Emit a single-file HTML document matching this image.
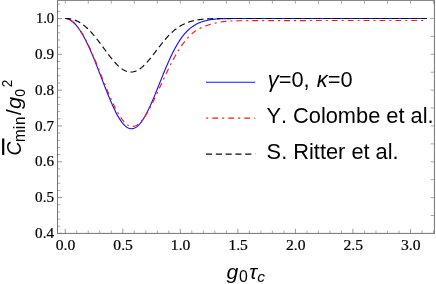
<!DOCTYPE html>
<html><head><meta charset="utf-8"><title>plot</title>
<style>html,body{margin:0;padding:0;background:#fff;}svg{display:block;will-change:transform;}</style></head>
<body>
<svg width="436" height="284" viewBox="0 0 436 284">
<rect width="436" height="284" fill="#fff"/>
<path d="M65.25 18.50 L65.77 18.52 L66.28 18.58 L66.80 18.67 L67.32 18.79 L67.84 18.94 L68.35 19.13 L68.87 19.34 L69.39 19.58 L69.90 19.85 L70.42 20.15 L70.94 20.48 L71.46 20.83 L71.97 21.21 L72.49 21.62 L73.01 22.05 L73.53 22.51 L74.04 23.00 L74.56 23.51 L75.08 24.05 L75.59 24.61 L76.11 25.20 L76.63 25.81 L77.15 26.45 L77.66 27.11 L78.18 27.80 L78.70 28.51 L79.21 29.24 L79.73 30.00 L80.25 30.78 L80.77 31.59 L81.28 32.41 L81.80 33.26 L82.32 34.13 L82.84 35.02 L83.35 35.94 L83.87 36.87 L84.39 37.83 L84.90 38.80 L85.42 39.80 L85.94 40.81 L86.46 41.85 L86.97 42.90 L87.49 43.97 L88.01 45.06 L88.52 46.16 L89.04 47.29 L89.56 48.43 L90.08 49.58 L90.59 50.75 L91.11 51.94 L91.63 53.14 L92.15 54.35 L92.66 55.58 L93.18 56.81 L93.70 58.07 L94.21 59.33 L94.73 60.60 L95.25 61.88 L95.77 63.18 L96.28 64.48 L96.80 65.79 L97.32 67.10 L97.83 68.42 L98.35 69.75 L98.87 71.09 L99.39 72.42 L99.90 73.76 L100.42 75.11 L100.94 76.45 L101.46 77.80 L101.97 79.15 L102.49 80.50 L103.01 81.84 L103.52 83.18 L104.04 84.52 L104.56 85.86 L105.08 87.19 L105.59 88.52 L106.11 89.83 L106.63 91.15 L107.14 92.45 L107.66 93.74 L108.18 95.02 L108.70 96.30 L109.21 97.56 L109.73 98.80 L110.25 100.04 L110.77 101.26 L111.28 102.46 L111.80 103.64 L112.32 104.81 L112.83 105.96 L113.35 107.09 L113.87 108.21 L114.39 109.30 L114.90 110.36 L115.42 111.41 L115.94 112.43 L116.45 113.43 L116.97 114.40 L117.49 115.35 L118.01 116.27 L118.52 117.16 L119.04 118.02 L119.56 118.86 L120.07 119.66 L120.59 120.44 L121.11 121.18 L121.63 121.90 L122.14 122.58 L122.66 123.22 L123.18 123.84 L123.70 124.41 L124.21 124.96 L124.73 125.47 L125.25 125.94 L125.76 126.38 L126.28 126.78 L126.80 127.15 L127.32 127.48 L127.83 127.77 L128.35 128.02 L128.87 128.24 L129.38 128.41 L129.90 128.55 L130.42 128.65 L130.94 128.72 L131.45 128.74 L131.97 128.72 L132.49 128.67 L133.01 128.58 L133.52 128.45 L134.04 128.28 L134.56 128.07 L135.07 127.83 L135.59 127.54 L136.11 127.22 L136.63 126.86 L137.14 126.47 L137.66 126.04 L138.18 125.57 L138.69 125.06 L139.21 124.53 L139.73 123.95 L140.25 123.34 L140.76 122.70 L141.28 122.03 L141.80 121.32 L142.32 120.58 L142.83 119.81 L143.35 119.01 L143.87 118.18 L144.38 117.32 L144.90 116.43 L145.42 115.51 L145.94 114.57 L146.45 113.60 L146.97 112.61 L147.49 111.60 L148.00 110.56 L148.52 109.49 L149.04 108.41 L149.56 107.31 L150.07 106.19 L150.59 105.05 L151.11 103.89 L151.63 102.72 L152.14 101.53 L152.66 100.33 L153.18 99.11 L153.69 97.88 L154.21 96.64 L154.73 95.39 L155.25 94.13 L155.76 92.87 L156.28 91.59 L156.80 90.31 L157.31 89.03 L157.83 87.74 L158.35 86.45 L158.87 85.15 L159.38 83.86 L159.90 82.56 L160.42 81.27 L160.94 79.98 L161.45 78.69 L161.97 77.40 L162.49 76.12 L163.00 74.84 L163.52 73.57 L164.04 72.30 L164.56 71.05 L165.07 69.80 L165.59 68.56 L166.11 67.33 L166.62 66.11 L167.14 64.91 L167.66 63.71 L168.18 62.53 L168.69 61.36 L169.21 60.21 L169.73 59.07 L170.24 57.94 L170.76 56.83 L171.28 55.73 L171.80 54.66 L172.31 53.59 L172.83 52.55 L173.35 51.52 L173.87 50.51 L174.38 49.52 L174.90 48.55 L175.42 47.60 L175.93 46.66 L176.45 45.75 L176.97 44.85 L177.49 43.97 L178.00 43.11 L178.52 42.27 L179.04 41.46 L179.55 40.66 L180.07 39.88 L180.59 39.12 L181.11 38.38 L181.62 37.66 L182.14 36.95 L182.66 36.27 L183.18 35.61 L183.69 34.96 L184.21 34.34 L184.73 33.73 L185.24 33.14 L185.76 32.57 L186.28 32.01 L186.80 31.48 L187.31 30.96 L187.83 30.45 L188.35 29.97 L188.86 29.50 L189.38 29.04 L189.90 28.60 L190.42 28.17 L190.93 27.76 L191.45 27.36 L191.97 26.98 L192.49 26.61 L193.00 26.25 L193.52 25.91 L194.04 25.58 L194.55 25.25 L195.07 24.94 L195.59 24.65 L196.11 24.36 L196.62 24.08 L197.14 23.81 L197.66 23.56 L198.17 23.31 L198.69 23.07 L199.21 22.84 L199.73 22.62 L200.24 22.41 L200.76 22.21 L201.28 22.01 L201.80 21.83 L202.31 21.65 L202.83 21.48 L203.35 21.31 L203.86 21.15 L204.38 21.00 L204.90 20.86 L205.42 20.72 L205.93 20.59 L206.45 20.47 L206.97 20.35 L207.48 20.23 L208.00 20.13 L208.52 20.03 L209.04 19.93 L209.55 19.84 L210.07 19.75 L210.59 19.67 L211.11 19.59 L211.62 19.52 L212.14 19.45 L212.66 19.38 L213.17 19.32 L213.69 19.26 L214.21 19.21 L214.73 19.16 L215.24 19.11 L215.76 19.07 L216.28 19.03 L216.79 18.99 L217.31 18.95 L217.83 18.92 L218.35 18.89 L218.86 18.86 L219.38 18.83 L219.90 18.80 L220.42 18.78 L220.93 18.76 L221.45 18.74 L221.97 18.72 L222.48 18.70 L223.00 18.69 L223.52 18.67 L224.04 18.66 L224.55 18.64 L225.07 18.63 L225.59 18.62 L226.10 18.61 L226.62 18.60 L227.14 18.59 L227.66 18.59 L228.17 18.58 L228.69 18.57 L229.21 18.57 L229.72 18.56 L230.24 18.56 L230.76 18.55 L231.28 18.55 L231.79 18.54 L232.31 18.54 L232.83 18.53 L233.35 18.53 L233.86 18.53 L234.38 18.53 L234.90 18.52 L235.41 18.52 L235.93 18.52 L236.45 18.52 L236.97 18.52 L237.48 18.51 L238.00 18.51 L238.52 18.51 L239.03 18.51 L239.55 18.51 L240.07 18.51 L240.59 18.51 L241.10 18.51 L241.62 18.51 L242.14 18.51 L242.66 18.51 L243.17 18.50 L243.69 18.50 L244.21 18.50 L244.72 18.50 L245.24 18.50 L245.76 18.50 L246.28 18.50 L246.79 18.50 L247.31 18.50 L247.83 18.50 L248.34 18.50 L248.86 18.50 L249.38 18.50 L249.90 18.50 L250.41 18.50 L250.93 18.50 L251.45 18.50 L251.97 18.50 L252.48 18.50 L253.00 18.50 L253.52 18.50 L254.03 18.50 L254.55 18.50 L255.07 18.50 L255.59 18.50 L256.10 18.50 L256.62 18.50 L257.14 18.50 L257.65 18.50 L258.17 18.50 L258.69 18.50 L259.21 18.50 L259.72 18.50 L260.24 18.50 L260.76 18.50 L261.28 18.50 L261.79 18.50 L262.31 18.50 L262.83 18.50 L263.34 18.50 L263.86 18.50 L264.38 18.50 L264.90 18.50 L265.41 18.50 L265.93 18.50 L266.45 18.50 L266.96 18.50 L267.48 18.50 L268.00 18.50 L268.52 18.50 L269.03 18.50 L269.55 18.50 L270.07 18.50 L270.59 18.50 L271.10 18.50 L271.62 18.50 L272.14 18.50 L272.65 18.50 L273.17 18.50 L273.69 18.50 L274.21 18.50 L274.72 18.50 L275.24 18.50 L275.76 18.50 L276.27 18.50 L276.79 18.50 L277.31 18.50 L277.83 18.50 L278.34 18.50 L278.86 18.50 L279.38 18.50 L279.89 18.50 L280.41 18.50 L280.93 18.50 L281.45 18.50 L281.96 18.50 L282.48 18.50 L283.00 18.50 L283.52 18.50 L284.03 18.50 L284.55 18.50 L285.07 18.50 L285.58 18.50 L286.10 18.50 L286.62 18.50 L287.14 18.50 L287.65 18.50 L288.17 18.50 L288.69 18.50 L289.20 18.50 L289.72 18.50 L290.24 18.50 L290.76 18.50 L291.27 18.50 L291.79 18.50 L292.31 18.50 L292.83 18.50 L293.34 18.50 L293.86 18.50 L294.38 18.50 L294.89 18.50 L295.41 18.50 L295.93 18.50 L296.45 18.50 L296.96 18.50 L297.48 18.50 L298.00 18.50 L298.51 18.50 L299.03 18.50 L299.55 18.50 L300.07 18.50 L300.58 18.50 L301.10 18.50 L301.62 18.50 L302.14 18.50 L302.65 18.50 L303.17 18.50 L303.69 18.50 L304.20 18.50 L304.72 18.50 L305.24 18.50 L305.76 18.50 L306.27 18.50 L306.79 18.50 L307.31 18.50 L307.82 18.50 L308.34 18.50 L308.86 18.50 L309.38 18.50 L309.89 18.50 L310.41 18.50 L310.93 18.50 L311.45 18.50 L311.96 18.50 L312.48 18.50 L313.00 18.50 L313.51 18.50 L314.03 18.50 L314.55 18.50 L315.07 18.50 L315.58 18.50 L316.10 18.50 L316.62 18.50 L317.13 18.50 L317.65 18.50 L318.17 18.50 L318.69 18.50 L319.20 18.50 L319.72 18.50 L320.24 18.50 L320.76 18.50 L321.27 18.50 L321.79 18.50 L322.31 18.50 L322.82 18.50 L323.34 18.50 L323.86 18.50 L324.38 18.50 L324.89 18.50 L325.41 18.50 L325.93 18.50 L326.44 18.50 L326.96 18.50 L327.48 18.50 L328.00 18.50 L328.51 18.50 L329.03 18.50 L329.55 18.50 L330.06 18.50 L330.58 18.50 L331.10 18.50 L331.62 18.50 L332.13 18.50 L332.65 18.50 L333.17 18.50 L333.69 18.50 L334.20 18.50 L334.72 18.50 L335.24 18.50 L335.75 18.50 L336.27 18.50 L336.79 18.50 L337.31 18.50 L337.82 18.50 L338.34 18.50 L338.86 18.50 L339.37 18.50 L339.89 18.50 L340.41 18.50 L340.93 18.50 L341.44 18.50 L341.96 18.50 L342.48 18.50 L343.00 18.50 L343.51 18.50 L344.03 18.50 L344.55 18.50 L345.06 18.50 L345.58 18.50 L346.10 18.50 L346.62 18.50 L347.13 18.50 L347.65 18.50 L348.17 18.50 L348.68 18.50 L349.20 18.50 L349.72 18.50 L350.24 18.50 L350.75 18.50 L351.27 18.50 L351.79 18.50 L352.31 18.50 L352.82 18.50 L353.34 18.50 L353.86 18.50 L354.37 18.50 L354.89 18.50 L355.41 18.50 L355.93 18.50 L356.44 18.50 L356.96 18.50 L357.48 18.50 L357.99 18.50 L358.51 18.50 L359.03 18.50 L359.55 18.50 L360.06 18.50 L360.58 18.50 L361.10 18.50 L361.62 18.50 L362.13 18.50 L362.65 18.50 L363.17 18.50 L363.68 18.50 L364.20 18.50 L364.72 18.50 L365.24 18.50 L365.75 18.50 L366.27 18.50 L366.79 18.50 L367.30 18.50 L367.82 18.50 L368.34 18.50 L368.86 18.50 L369.37 18.50 L369.89 18.50 L370.41 18.50 L370.93 18.50 L371.44 18.50 L371.96 18.50 L372.48 18.50 L372.99 18.50 L373.51 18.50 L374.03 18.50 L374.55 18.50 L375.06 18.50 L375.58 18.50 L376.10 18.50 L376.61 18.50 L377.13 18.50 L377.65 18.50 L378.17 18.50 L378.68 18.50 L379.20 18.50 L379.72 18.50 L380.23 18.50 L380.75 18.50 L381.27 18.50 L381.79 18.50 L382.30 18.50 L382.82 18.50 L383.34 18.50 L383.86 18.50 L384.37 18.50 L384.89 18.50 L385.41 18.50 L385.92 18.50 L386.44 18.50 L386.96 18.50 L387.48 18.50 L387.99 18.50 L388.51 18.50 L389.03 18.50 L389.54 18.50 L390.06 18.50 L390.58 18.50 L391.10 18.50 L391.61 18.50 L392.13 18.50 L392.65 18.50 L393.17 18.50 L393.68 18.50 L394.20 18.50 L394.72 18.50 L395.23 18.50 L395.75 18.50 L396.27 18.50 L396.79 18.50 L397.30 18.50 L397.82 18.50 L398.34 18.50 L398.85 18.50 L399.37 18.50 L399.89 18.50 L400.41 18.50 L400.92 18.50 L401.44 18.50 L401.96 18.50 L402.48 18.50 L402.99 18.50 L403.51 18.50 L404.03 18.50 L404.54 18.50 L405.06 18.50 L405.58 18.50 L406.10 18.50 L406.61 18.50 L407.13 18.50 L407.65 18.50 L408.16 18.50 L408.68 18.50 L409.20 18.50 L409.72 18.50 L410.23 18.50 L410.75 18.50 L411.27 18.50 L411.79 18.50 L412.30 18.50 L412.82 18.50 L413.34 18.50 L413.85 18.50 L414.37 18.50 L414.89 18.50 L415.41 18.50 L415.92 18.50 L416.44 18.50 L416.96 18.50 L417.47 18.50 L417.99 18.50 L418.51 18.50 L419.03 18.50 L419.54 18.50 L420.06 18.50 L420.58 18.50 L421.10 18.50 L421.61 18.50 L422.13 18.50 L422.65 18.50 L423.16 18.50 L423.68 18.50 L424.20 18.50 L424.72 18.50 L425.23 18.50 L425.75 18.50 L426.27 18.50 L426.78 18.50" fill="none" stroke="#1414ff" stroke-width="1.15"/>
<path d="M65.25 18.50 L65.77 18.52 L66.28 18.57 L66.80 18.66 L67.32 18.77 L67.84 18.91 L68.35 19.09 L68.87 19.29 L69.39 19.52 L69.90 19.78 L70.42 20.06 L70.94 20.37 L71.46 20.71 L71.97 21.08 L72.49 21.47 L73.01 21.89 L73.53 22.34 L74.04 22.81 L74.56 23.31 L75.08 23.83 L75.59 24.38 L76.11 24.95 L76.63 25.55 L77.15 26.17 L77.66 26.81 L78.18 27.48 L78.70 28.18 L79.21 28.89 L79.73 29.63 L80.25 30.39 L80.77 31.18 L81.28 31.98 L81.80 32.81 L82.32 33.66 L82.84 34.53 L83.35 35.42 L83.87 36.34 L84.39 37.27 L84.90 38.22 L85.42 39.19 L85.94 40.18 L86.46 41.18 L86.97 42.21 L87.49 43.25 L88.01 44.31 L88.52 45.38 L89.04 46.47 L89.56 47.57 L90.08 48.69 L90.59 49.83 L91.11 50.98 L91.63 52.14 L92.15 53.31 L92.66 54.50 L93.18 55.69 L93.70 56.90 L94.21 58.12 L94.73 59.34 L95.25 60.58 L95.77 61.82 L96.28 63.07 L96.80 64.33 L97.32 65.60 L97.83 66.87 L98.35 68.14 L98.87 69.42 L99.39 70.70 L99.90 71.99 L100.42 73.28 L100.94 74.57 L101.46 75.86 L101.97 77.15 L102.49 78.44 L103.01 79.72 L103.52 81.01 L104.04 82.29 L104.56 83.57 L105.08 84.84 L105.59 86.11 L106.11 87.38 L106.63 88.63 L107.14 89.88 L107.66 91.12 L108.18 92.35 L108.70 93.58 L109.21 94.79 L109.73 95.99 L110.25 97.18 L110.77 98.35 L111.28 99.51 L111.80 100.66 L112.32 101.79 L112.83 102.91 L113.35 104.01 L113.87 105.09 L114.39 106.15 L114.90 107.20 L115.42 108.22 L115.94 109.23 L116.45 110.21 L116.97 111.17 L117.49 112.10 L118.01 113.02 L118.52 113.91 L119.04 114.77 L119.56 115.61 L120.07 116.42 L120.59 117.21 L121.11 117.96 L121.63 118.69 L122.14 119.39 L122.66 120.06 L123.18 120.69 L123.70 121.30 L124.21 121.87 L124.73 122.42 L125.25 122.93 L125.76 123.40 L126.28 123.85 L126.80 124.26 L127.32 124.63 L127.83 124.97 L128.35 125.27 L128.87 125.54 L129.38 125.78 L129.90 125.97 L130.42 126.13 L130.94 126.26 L131.45 126.35 L131.97 126.40 L132.49 126.41 L133.01 126.39 L133.52 126.33 L134.04 126.24 L134.56 126.11 L135.07 125.94 L135.59 125.74 L136.11 125.51 L136.63 125.23 L137.14 124.93 L137.66 124.58 L138.18 124.21 L138.69 123.80 L139.21 123.36 L139.73 122.88 L140.25 122.38 L140.76 121.84 L141.28 121.27 L141.80 120.68 L142.32 120.05 L142.83 119.40 L143.35 118.71 L143.87 118.00 L144.38 117.27 L144.90 116.51 L145.42 115.72 L145.94 114.91 L146.45 114.08 L146.97 113.23 L147.49 112.35 L148.00 111.45 L148.52 110.54 L149.04 109.61 L149.56 108.65 L150.07 107.69 L150.59 106.70 L151.11 105.70 L151.63 104.69 L152.14 103.66 L152.66 102.62 L153.18 101.57 L153.69 100.51 L154.21 99.44 L154.73 98.36 L155.25 97.27 L155.76 96.18 L156.28 95.07 L156.80 93.97 L157.31 92.85 L157.83 91.73 L158.35 90.61 L158.87 89.49 L159.38 88.36 L159.90 87.23 L160.42 86.11 L160.94 84.98 L161.45 83.85 L161.97 82.72 L162.49 81.60 L163.00 80.48 L163.52 79.36 L164.04 78.24 L164.56 77.13 L165.07 76.02 L165.59 74.92 L166.11 73.83 L166.62 72.74 L167.14 71.66 L167.66 70.58 L168.18 69.52 L168.69 68.46 L169.21 67.41 L169.73 66.37 L170.24 65.34 L170.76 64.32 L171.28 63.30 L171.80 62.30 L172.31 61.31 L172.83 60.34 L173.35 59.37 L173.87 58.41 L174.38 57.47 L174.90 56.54 L175.42 55.62 L175.93 54.72 L176.45 53.83 L176.97 52.95 L177.49 52.08 L178.00 51.23 L178.52 50.39 L179.04 49.57 L179.55 48.76 L180.07 47.96 L180.59 47.18 L181.11 46.41 L181.62 45.66 L182.14 44.92 L182.66 44.20 L183.18 43.49 L183.69 42.79 L184.21 42.11 L184.73 41.45 L185.24 40.80 L185.76 40.16 L186.28 39.54 L186.80 38.94 L187.31 38.34 L187.83 37.77 L188.35 37.21 L188.86 36.66 L189.38 36.13 L189.90 35.61 L190.42 35.11 L190.93 34.62 L191.45 34.15 L191.97 33.69 L192.49 33.25 L193.00 32.81 L193.52 32.40 L194.04 32.00 L194.55 31.61 L195.07 31.23 L195.59 30.87 L196.11 30.52 L196.62 30.18 L197.14 29.86 L197.66 29.54 L198.17 29.24 L198.69 28.95 L199.21 28.67 L199.73 28.40 L200.24 28.14 L200.76 27.89 L201.28 27.65 L201.80 27.42 L202.31 27.20 L202.83 26.98 L203.35 26.77 L203.86 26.56 L204.38 26.37 L204.90 26.17 L205.42 25.99 L205.93 25.80 L206.45 25.62 L206.97 25.45 L207.48 25.28 L208.00 25.11 L208.52 24.95 L209.04 24.79 L209.55 24.63 L210.07 24.47 L210.59 24.32 L211.11 24.17 L211.62 24.02 L212.14 23.88 L212.66 23.74 L213.17 23.60 L213.69 23.47 L214.21 23.33 L214.73 23.20 L215.24 23.08 L215.76 22.96 L216.28 22.84 L216.79 22.72 L217.31 22.61 L217.83 22.50 L218.35 22.40 L218.86 22.30 L219.38 22.21 L219.90 22.12 L220.42 22.03 L220.93 21.95 L221.45 21.87 L221.97 21.79 L222.48 21.72 L223.00 21.66 L223.52 21.59 L224.04 21.53 L224.55 21.48 L225.07 21.42 L225.59 21.38 L226.10 21.33 L226.62 21.29 L227.14 21.24 L227.66 21.21 L228.17 21.17 L228.69 21.14 L229.21 21.11 L229.72 21.08 L230.24 21.05 L230.76 21.03 L231.28 21.00 L231.79 20.98 L232.31 20.96 L232.83 20.94 L233.35 20.92 L233.86 20.90 L234.38 20.89 L234.90 20.87 L235.41 20.86 L235.93 20.85 L236.45 20.83 L236.97 20.82 L237.48 20.81 L238.00 20.80 L238.52 20.79 L239.03 20.78 L239.55 20.77 L240.07 20.77 L240.59 20.76 L241.10 20.75 L241.62 20.74 L242.14 20.74 L242.66 20.73 L243.17 20.73 L243.69 20.72 L244.21 20.72 L244.72 20.71 L245.24 20.71 L245.76 20.70 L246.28 20.70 L246.79 20.69 L247.31 20.69 L247.83 20.68 L248.34 20.68 L248.86 20.68 L249.38 20.67 L249.90 20.67 L250.41 20.67 L250.93 20.66 L251.45 20.66 L251.97 20.66 L252.48 20.66 L253.00 20.65 L253.52 20.65 L254.03 20.65 L254.55 20.65 L255.07 20.64 L255.59 20.64 L256.10 20.64 L256.62 20.64 L257.14 20.63 L257.65 20.63 L258.17 20.63 L258.69 20.63 L259.21 20.63 L259.72 20.63 L260.24 20.62 L260.76 20.62 L261.28 20.62 L261.79 20.62 L262.31 20.62 L262.83 20.61 L263.34 20.61 L263.86 20.61 L264.38 20.61 L264.90 20.61 L265.41 20.61 L265.93 20.61 L266.45 20.60 L266.96 20.60 L267.48 20.60 L268.00 20.60 L268.52 20.60 L269.03 20.60 L269.55 20.60 L270.07 20.59 L270.59 20.59 L271.10 20.59 L271.62 20.59 L272.14 20.59 L272.65 20.59 L273.17 20.59 L273.69 20.59 L274.21 20.58 L274.72 20.58 L275.24 20.58 L275.76 20.58 L276.27 20.58 L276.79 20.58 L277.31 20.58 L277.83 20.58 L278.34 20.58 L278.86 20.58 L279.38 20.57 L279.89 20.57 L280.41 20.57 L280.93 20.57 L281.45 20.57 L281.96 20.57 L282.48 20.57 L283.00 20.57 L283.52 20.57 L284.03 20.57 L284.55 20.57 L285.07 20.56 L285.58 20.56 L286.10 20.56 L286.62 20.56 L287.14 20.56 L287.65 20.56 L288.17 20.56 L288.69 20.56 L289.20 20.56 L289.72 20.56 L290.24 20.56 L290.76 20.56 L291.27 20.56 L291.79 20.56 L292.31 20.56 L292.83 20.55 L293.34 20.55 L293.86 20.55 L294.38 20.55 L294.89 20.55 L295.41 20.55 L295.93 20.55 L296.45 20.55 L296.96 20.55 L297.48 20.55 L298.00 20.55 L298.51 20.55 L299.03 20.55 L299.55 20.55 L300.07 20.55 L300.58 20.55 L301.10 20.55 L301.62 20.55 L302.14 20.55 L302.65 20.55 L303.17 20.55 L303.69 20.55 L304.20 20.55 L304.72 20.55 L305.24 20.55 L305.76 20.55 L306.27 20.55 L306.79 20.55 L307.31 20.55 L307.82 20.55 L308.34 20.54 L308.86 20.54 L309.38 20.54 L309.89 20.54 L310.41 20.54 L310.93 20.54 L311.45 20.54 L311.96 20.54 L312.48 20.54 L313.00 20.54 L313.51 20.54 L314.03 20.54 L314.55 20.54 L315.07 20.54 L315.58 20.54 L316.10 20.54 L316.62 20.54 L317.13 20.54 L317.65 20.54 L318.17 20.54 L318.69 20.54 L319.20 20.54 L319.72 20.54 L320.24 20.54 L320.76 20.54 L321.27 20.54 L321.79 20.54 L322.31 20.54 L322.82 20.54 L323.34 20.54 L323.86 20.54 L324.38 20.54 L324.89 20.54 L325.41 20.54 L325.93 20.54 L326.44 20.54 L326.96 20.54 L327.48 20.54 L328.00 20.54 L328.51 20.54 L329.03 20.54 L329.55 20.54 L330.06 20.54 L330.58 20.54 L331.10 20.54 L331.62 20.54 L332.13 20.54 L332.65 20.54 L333.17 20.54 L333.69 20.54 L334.20 20.54 L334.72 20.54 L335.24 20.54 L335.75 20.54 L336.27 20.54 L336.79 20.54 L337.31 20.54 L337.82 20.54 L338.34 20.54 L338.86 20.54 L339.37 20.54 L339.89 20.54 L340.41 20.54 L340.93 20.54 L341.44 20.54 L341.96 20.54 L342.48 20.54 L343.00 20.54 L343.51 20.54 L344.03 20.54 L344.55 20.54 L345.06 20.54 L345.58 20.54 L346.10 20.54 L346.62 20.54 L347.13 20.54 L347.65 20.54 L348.17 20.54 L348.68 20.54 L349.20 20.54 L349.72 20.54 L350.24 20.54 L350.75 20.54 L351.27 20.54 L351.79 20.54 L352.31 20.54 L352.82 20.54 L353.34 20.54 L353.86 20.54 L354.37 20.54 L354.89 20.54 L355.41 20.54 L355.93 20.54 L356.44 20.54 L356.96 20.54 L357.48 20.54 L357.99 20.54 L358.51 20.54 L359.03 20.54 L359.55 20.54 L360.06 20.54 L360.58 20.54 L361.10 20.54 L361.62 20.54 L362.13 20.54 L362.65 20.54 L363.17 20.54 L363.68 20.54 L364.20 20.54 L364.72 20.54 L365.24 20.54 L365.75 20.54 L366.27 20.54 L366.79 20.54 L367.30 20.54 L367.82 20.54 L368.34 20.54 L368.86 20.54 L369.37 20.54 L369.89 20.54 L370.41 20.54 L370.93 20.54 L371.44 20.54 L371.96 20.54 L372.48 20.54 L372.99 20.54 L373.51 20.54 L374.03 20.54 L374.55 20.54 L375.06 20.54 L375.58 20.54 L376.10 20.54 L376.61 20.54 L377.13 20.54 L377.65 20.54 L378.17 20.54 L378.68 20.54 L379.20 20.54 L379.72 20.54 L380.23 20.54 L380.75 20.54 L381.27 20.54 L381.79 20.54 L382.30 20.54 L382.82 20.54 L383.34 20.54 L383.86 20.54 L384.37 20.54 L384.89 20.54 L385.41 20.54 L385.92 20.54 L386.44 20.54 L386.96 20.54 L387.48 20.54 L387.99 20.54 L388.51 20.54 L389.03 20.54 L389.54 20.54 L390.06 20.54 L390.58 20.54 L391.10 20.54 L391.61 20.54 L392.13 20.54 L392.65 20.54 L393.17 20.54 L393.68 20.54 L394.20 20.54 L394.72 20.54 L395.23 20.54 L395.75 20.54 L396.27 20.54 L396.79 20.54 L397.30 20.54 L397.82 20.54 L398.34 20.54 L398.85 20.54 L399.37 20.54 L399.89 20.54 L400.41 20.54 L400.92 20.54 L401.44 20.54 L401.96 20.54 L402.48 20.54 L402.99 20.54 L403.51 20.54 L404.03 20.54 L404.54 20.54 L405.06 20.54 L405.58 20.54 L406.10 20.54 L406.61 20.54 L407.13 20.54 L407.65 20.54 L408.16 20.54 L408.68 20.54 L409.20 20.54 L409.72 20.54 L410.23 20.54 L410.75 20.54 L411.27 20.54 L411.79 20.54 L412.30 20.54 L412.82 20.54 L413.34 20.54 L413.85 20.54 L414.37 20.54 L414.89 20.54 L415.41 20.54 L415.92 20.54 L416.44 20.54 L416.96 20.54 L417.47 20.54 L417.99 20.54 L418.51 20.54 L419.03 20.54 L419.54 20.54 L420.06 20.54 L420.58 20.54 L421.10 20.54 L421.61 20.54 L422.13 20.54 L422.65 20.54 L423.16 20.54 L423.68 20.54 L424.20 20.54 L424.72 20.54 L425.23 20.54 L425.75 20.54 L426.27 20.54 L426.78 20.54" fill="none" stroke="#ff1414" stroke-width="1.15" stroke-dasharray="5.78 4.06 2 4.06" stroke-dashoffset="-4.6"/>
<path d="M65.25 18.50 L65.77 18.50 L66.28 18.51 L66.80 18.53 L67.32 18.56 L67.84 18.59 L68.35 18.64 L68.87 18.69 L69.39 18.76 L69.90 18.83 L70.42 18.92 L70.94 19.01 L71.46 19.12 L71.97 19.24 L72.49 19.37 L73.01 19.52 L73.53 19.67 L74.04 19.84 L74.56 20.02 L75.08 20.21 L75.59 20.41 L76.11 20.62 L76.63 20.85 L77.15 21.09 L77.66 21.34 L78.18 21.61 L78.70 21.88 L79.21 22.17 L79.73 22.47 L80.25 22.79 L80.77 23.12 L81.28 23.46 L81.80 23.81 L82.32 24.17 L82.84 24.55 L83.35 24.94 L83.87 25.34 L84.39 25.75 L84.90 26.18 L85.42 26.62 L85.94 27.07 L86.46 27.53 L86.97 28.00 L87.49 28.49 L88.01 28.98 L88.52 29.49 L89.04 30.01 L89.56 30.54 L90.08 31.08 L90.59 31.63 L91.11 32.19 L91.63 32.76 L92.15 33.34 L92.66 33.93 L93.18 34.53 L93.70 35.13 L94.21 35.75 L94.73 36.37 L95.25 37.00 L95.77 37.64 L96.28 38.29 L96.80 38.94 L97.32 39.60 L97.83 40.26 L98.35 40.93 L98.87 41.61 L99.39 42.29 L99.90 42.97 L100.42 43.66 L100.94 44.35 L101.46 45.05 L101.97 45.74 L102.49 46.44 L103.01 47.14 L103.52 47.84 L104.04 48.54 L104.56 49.25 L105.08 49.95 L105.59 50.64 L106.11 51.34 L106.63 52.04 L107.14 52.73 L107.66 53.42 L108.18 54.10 L108.70 54.78 L109.21 55.45 L109.73 56.12 L110.25 56.78 L110.77 57.44 L111.28 58.09 L111.80 58.73 L112.32 59.36 L112.83 59.98 L113.35 60.59 L113.87 61.19 L114.39 61.78 L114.90 62.36 L115.42 62.93 L115.94 63.48 L116.45 64.03 L116.97 64.55 L117.49 65.07 L118.01 65.57 L118.52 66.05 L119.04 66.52 L119.56 66.97 L120.07 67.40 L120.59 67.82 L121.11 68.22 L121.63 68.60 L122.14 68.97 L122.66 69.31 L123.18 69.64 L123.70 69.95 L124.21 70.24 L124.73 70.50 L125.25 70.75 L125.76 70.98 L126.28 71.18 L126.80 71.37 L127.32 71.53 L127.83 71.67 L128.35 71.79 L128.87 71.89 L129.38 71.96 L129.90 72.02 L130.42 72.05 L130.94 72.06 L131.45 72.05 L131.97 72.01 L132.49 71.96 L133.01 71.88 L133.52 71.78 L134.04 71.66 L134.56 71.51 L135.07 71.35 L135.59 71.16 L136.11 70.95 L136.63 70.72 L137.14 70.47 L137.66 70.20 L138.18 69.91 L138.69 69.60 L139.21 69.27 L139.73 68.93 L140.25 68.56 L140.76 68.17 L141.28 67.77 L141.80 67.35 L142.32 66.91 L142.83 66.46 L143.35 65.99 L143.87 65.50 L144.38 65.00 L144.90 64.49 L145.42 63.96 L145.94 63.41 L146.45 62.86 L146.97 62.29 L147.49 61.71 L148.00 61.12 L148.52 60.52 L149.04 59.92 L149.56 59.30 L150.07 58.67 L150.59 58.04 L151.11 57.39 L151.63 56.75 L152.14 56.09 L152.66 55.43 L153.18 54.77 L153.69 54.10 L154.21 53.43 L154.73 52.75 L155.25 52.08 L155.76 51.40 L156.28 50.72 L156.80 50.04 L157.31 49.37 L157.83 48.69 L158.35 48.01 L158.87 47.34 L159.38 46.67 L159.90 46.00 L160.42 45.34 L160.94 44.68 L161.45 44.02 L161.97 43.37 L162.49 42.73 L163.00 42.09 L163.52 41.46 L164.04 40.83 L164.56 40.21 L165.07 39.60 L165.59 39.00 L166.11 38.41 L166.62 37.82 L167.14 37.25 L167.66 36.68 L168.18 36.12 L168.69 35.58 L169.21 35.04 L169.73 34.51 L170.24 33.99 L170.76 33.49 L171.28 32.99 L171.80 32.50 L172.31 32.03 L172.83 31.56 L173.35 31.11 L173.87 30.67 L174.38 30.23 L174.90 29.81 L175.42 29.40 L175.93 29.00 L176.45 28.61 L176.97 28.23 L177.49 27.86 L178.00 27.50 L178.52 27.15 L179.04 26.82 L179.55 26.49 L180.07 26.17 L180.59 25.86 L181.11 25.56 L181.62 25.27 L182.14 24.99 L182.66 24.71 L183.18 24.45 L183.69 24.20 L184.21 23.95 L184.73 23.71 L185.24 23.48 L185.76 23.26 L186.28 23.04 L186.80 22.83 L187.31 22.63 L187.83 22.44 L188.35 22.25 L188.86 22.07 L189.38 21.90 L189.90 21.73 L190.42 21.57 L190.93 21.42 L191.45 21.27 L191.97 21.13 L192.49 20.99 L193.00 20.86 L193.52 20.73 L194.04 20.61 L194.55 20.49 L195.07 20.38 L195.59 20.28 L196.11 20.18 L196.62 20.08 L197.14 19.99 L197.66 19.90 L198.17 19.81 L198.69 19.73 L199.21 19.66 L199.73 19.59 L200.24 19.52 L200.76 19.45 L201.28 19.39 L201.80 19.33 L202.31 19.28 L202.83 19.22 L203.35 19.18 L203.86 19.13 L204.38 19.09 L204.90 19.04 L205.42 19.01 L205.93 18.97 L206.45 18.93 L206.97 18.90 L207.48 18.87 L208.00 18.85 L208.52 18.82 L209.04 18.79 L209.55 18.77 L210.07 18.75 L210.59 18.73 L211.11 18.71 L211.62 18.70 L212.14 18.68 L212.66 18.66 L213.17 18.65 L213.69 18.64 L214.21 18.63 L214.73 18.62 L215.24 18.61 L215.76 18.60 L216.28 18.59 L216.79 18.58 L217.31 18.57 L217.83 18.57 L218.35 18.56 L218.86 18.56 L219.38 18.55 L219.90 18.55 L220.42 18.54 L220.93 18.54 L221.45 18.53 L221.97 18.53 L222.48 18.53 L223.00 18.53 L223.52 18.52 L224.04 18.52 L224.55 18.52 L225.07 18.52 L225.59 18.52 L226.10 18.51 L226.62 18.51 L227.14 18.51 L227.66 18.51 L228.17 18.51 L228.69 18.51 L229.21 18.51 L229.72 18.51 L230.24 18.51 L230.76 18.51 L231.28 18.50 L231.79 18.50 L232.31 18.50 L232.83 18.50 L233.35 18.50 L233.86 18.50 L234.38 18.50 L234.90 18.50 L235.41 18.50 L235.93 18.50 L236.45 18.50 L236.97 18.50 L237.48 18.50 L238.00 18.50 L238.52 18.50 L239.03 18.50 L239.55 18.50 L240.07 18.50 L240.59 18.50 L241.10 18.50 L241.62 18.50 L242.14 18.50 L242.66 18.50 L243.17 18.50 L243.69 18.50 L244.21 18.50 L244.72 18.50 L245.24 18.50 L245.76 18.50 L246.28 18.50 L246.79 18.50 L247.31 18.50 L247.83 18.50 L248.34 18.50 L248.86 18.50 L249.38 18.50 L249.90 18.50 L250.41 18.50 L250.93 18.50 L251.45 18.50 L251.97 18.50 L252.48 18.50 L253.00 18.50 L253.52 18.50 L254.03 18.50 L254.55 18.50 L255.07 18.50 L255.59 18.50 L256.10 18.50 L256.62 18.50 L257.14 18.50 L257.65 18.50 L258.17 18.50 L258.69 18.50 L259.21 18.50 L259.72 18.50 L260.24 18.50 L260.76 18.50 L261.28 18.50 L261.79 18.50 L262.31 18.50 L262.83 18.50 L263.34 18.50 L263.86 18.50 L264.38 18.50 L264.90 18.50 L265.41 18.50 L265.93 18.50 L266.45 18.50 L266.96 18.50 L267.48 18.50 L268.00 18.50 L268.52 18.50 L269.03 18.50 L269.55 18.50 L270.07 18.50 L270.59 18.50 L271.10 18.50 L271.62 18.50 L272.14 18.50 L272.65 18.50 L273.17 18.50 L273.69 18.50 L274.21 18.50 L274.72 18.50 L275.24 18.50 L275.76 18.50 L276.27 18.50 L276.79 18.50 L277.31 18.50 L277.83 18.50 L278.34 18.50 L278.86 18.50 L279.38 18.50 L279.89 18.50 L280.41 18.50 L280.93 18.50 L281.45 18.50 L281.96 18.50 L282.48 18.50 L283.00 18.50 L283.52 18.50 L284.03 18.50 L284.55 18.50 L285.07 18.50 L285.58 18.50 L286.10 18.50 L286.62 18.50 L287.14 18.50 L287.65 18.50 L288.17 18.50 L288.69 18.50 L289.20 18.50 L289.72 18.50 L290.24 18.50 L290.76 18.50 L291.27 18.50 L291.79 18.50 L292.31 18.50 L292.83 18.50 L293.34 18.50 L293.86 18.50 L294.38 18.50 L294.89 18.50 L295.41 18.50 L295.93 18.50 L296.45 18.50 L296.96 18.50 L297.48 18.50 L298.00 18.50 L298.51 18.50 L299.03 18.50 L299.55 18.50 L300.07 18.50 L300.58 18.50 L301.10 18.50 L301.62 18.50 L302.14 18.50 L302.65 18.50 L303.17 18.50 L303.69 18.50 L304.20 18.50 L304.72 18.50 L305.24 18.50 L305.76 18.50 L306.27 18.50 L306.79 18.50 L307.31 18.50 L307.82 18.50 L308.34 18.50 L308.86 18.50 L309.38 18.50 L309.89 18.50 L310.41 18.50 L310.93 18.50 L311.45 18.50 L311.96 18.50 L312.48 18.50 L313.00 18.50 L313.51 18.50 L314.03 18.50 L314.55 18.50 L315.07 18.50 L315.58 18.50 L316.10 18.50 L316.62 18.50 L317.13 18.50 L317.65 18.50 L318.17 18.50 L318.69 18.50 L319.20 18.50 L319.72 18.50 L320.24 18.50 L320.76 18.50 L321.27 18.50 L321.79 18.50 L322.31 18.50 L322.82 18.50 L323.34 18.50 L323.86 18.50 L324.38 18.50 L324.89 18.50 L325.41 18.50 L325.93 18.50 L326.44 18.50 L326.96 18.50 L327.48 18.50 L328.00 18.50 L328.51 18.50 L329.03 18.50 L329.55 18.50 L330.06 18.50 L330.58 18.50 L331.10 18.50 L331.62 18.50 L332.13 18.50 L332.65 18.50 L333.17 18.50 L333.69 18.50 L334.20 18.50 L334.72 18.50 L335.24 18.50 L335.75 18.50 L336.27 18.50 L336.79 18.50 L337.31 18.50 L337.82 18.50 L338.34 18.50 L338.86 18.50 L339.37 18.50 L339.89 18.50 L340.41 18.50 L340.93 18.50 L341.44 18.50 L341.96 18.50 L342.48 18.50 L343.00 18.50 L343.51 18.50 L344.03 18.50 L344.55 18.50 L345.06 18.50 L345.58 18.50 L346.10 18.50 L346.62 18.50 L347.13 18.50 L347.65 18.50 L348.17 18.50 L348.68 18.50 L349.20 18.50 L349.72 18.50 L350.24 18.50 L350.75 18.50 L351.27 18.50 L351.79 18.50 L352.31 18.50 L352.82 18.50 L353.34 18.50 L353.86 18.50 L354.37 18.50 L354.89 18.50 L355.41 18.50 L355.93 18.50 L356.44 18.50 L356.96 18.50 L357.48 18.50 L357.99 18.50 L358.51 18.50 L359.03 18.50 L359.55 18.50 L360.06 18.50 L360.58 18.50 L361.10 18.50 L361.62 18.50 L362.13 18.50 L362.65 18.50 L363.17 18.50 L363.68 18.50 L364.20 18.50 L364.72 18.50 L365.24 18.50 L365.75 18.50 L366.27 18.50 L366.79 18.50 L367.30 18.50 L367.82 18.50 L368.34 18.50 L368.86 18.50 L369.37 18.50 L369.89 18.50 L370.41 18.50 L370.93 18.50 L371.44 18.50 L371.96 18.50 L372.48 18.50 L372.99 18.50 L373.51 18.50 L374.03 18.50 L374.55 18.50 L375.06 18.50 L375.58 18.50 L376.10 18.50 L376.61 18.50 L377.13 18.50 L377.65 18.50 L378.17 18.50 L378.68 18.50 L379.20 18.50 L379.72 18.50 L380.23 18.50 L380.75 18.50 L381.27 18.50 L381.79 18.50 L382.30 18.50 L382.82 18.50 L383.34 18.50 L383.86 18.50 L384.37 18.50 L384.89 18.50 L385.41 18.50 L385.92 18.50 L386.44 18.50 L386.96 18.50 L387.48 18.50 L387.99 18.50 L388.51 18.50 L389.03 18.50 L389.54 18.50 L390.06 18.50 L390.58 18.50 L391.10 18.50 L391.61 18.50 L392.13 18.50 L392.65 18.50 L393.17 18.50 L393.68 18.50 L394.20 18.50 L394.72 18.50 L395.23 18.50 L395.75 18.50 L396.27 18.50 L396.79 18.50 L397.30 18.50 L397.82 18.50 L398.34 18.50 L398.85 18.50 L399.37 18.50 L399.89 18.50 L400.41 18.50 L400.92 18.50 L401.44 18.50 L401.96 18.50 L402.48 18.50 L402.99 18.50 L403.51 18.50 L404.03 18.50 L404.54 18.50 L405.06 18.50 L405.58 18.50 L406.10 18.50 L406.61 18.50 L407.13 18.50 L407.65 18.50 L408.16 18.50 L408.68 18.50 L409.20 18.50 L409.72 18.50 L410.23 18.50 L410.75 18.50 L411.27 18.50 L411.79 18.50 L412.30 18.50 L412.82 18.50 L413.34 18.50 L413.85 18.50 L414.37 18.50 L414.89 18.50 L415.41 18.50 L415.92 18.50 L416.44 18.50 L416.96 18.50 L417.47 18.50 L417.99 18.50 L418.51 18.50 L419.03 18.50 L419.54 18.50 L420.06 18.50 L420.58 18.50 L421.10 18.50 L421.61 18.50 L422.13 18.50 L422.65 18.50 L423.16 18.50 L423.68 18.50 L424.20 18.50 L424.72 18.50 L425.23 18.50 L425.75 18.50 L426.27 18.50 L426.78 18.50" fill="none" stroke="#0a0a0a" stroke-width="1.15" stroke-dasharray="6.05 3.685"/>
<g stroke="#747474" stroke-width="1" fill="none">
<rect x="57.5" y="0.35" width="376.9" height="233.05"/>
<path d="M65.25 233.4 v-4.6 M122.79 233.4 v-4.6 M180.33 233.4 v-4.6 M237.87 233.4 v-4.6 M295.41 233.4 v-4.6 M352.95 233.4 v-4.6 M410.49 233.4 v-4.6 M57.5 233.40 h4.4 M57.5 197.59 h4.4 M57.5 161.77 h4.4 M57.5 125.95 h4.4 M57.5 90.13 h4.4 M57.5 54.32 h4.4 M57.5 18.50 h4.4" stroke-width="0.75"/>
<path d="M76.76 233.4 v-2.9 M88.27 233.4 v-2.9 M99.77 233.4 v-2.9 M111.28 233.4 v-2.9 M134.30 233.4 v-2.9 M145.81 233.4 v-2.9 M157.31 233.4 v-2.9 M168.82 233.4 v-2.9 M191.84 233.4 v-2.9 M203.35 233.4 v-2.9 M214.85 233.4 v-2.9 M226.36 233.4 v-2.9 M249.38 233.4 v-2.9 M260.89 233.4 v-2.9 M272.39 233.4 v-2.9 M283.90 233.4 v-2.9 M306.92 233.4 v-2.9 M318.43 233.4 v-2.9 M329.93 233.4 v-2.9 M341.44 233.4 v-2.9 M364.46 233.4 v-2.9 M375.97 233.4 v-2.9 M387.47 233.4 v-2.9 M398.98 233.4 v-2.9 M422.00 233.4 v-2.9 M433.51 233.4 v-2.9 M65.25 0.35 v3.4 M88.27 0.35 v3.4 M111.28 0.35 v3.4 M134.30 0.35 v3.4 M157.31 0.35 v3.4 M180.33 0.35 v3.4 M203.35 0.35 v3.4 M226.36 0.35 v3.4 M249.38 0.35 v3.4 M272.39 0.35 v3.4 M295.41 0.35 v3.4 M318.43 0.35 v3.4 M341.44 0.35 v3.4 M364.46 0.35 v3.4 M387.47 0.35 v3.4 M410.49 0.35 v3.4 M433.51 0.35 v3.4 M57.5 226.24 h2.7 M57.5 219.08 h2.7 M57.5 211.91 h2.7 M57.5 204.75 h2.7 M57.5 190.42 h2.7 M57.5 183.26 h2.7 M57.5 176.09 h2.7 M57.5 168.93 h2.7 M57.5 154.60 h2.7 M57.5 147.44 h2.7 M57.5 140.28 h2.7 M57.5 133.11 h2.7 M57.5 118.79 h2.7 M57.5 111.62 h2.7 M57.5 104.46 h2.7 M57.5 97.30 h2.7 M57.5 82.97 h2.7 M57.5 75.81 h2.7 M57.5 68.64 h2.7 M57.5 61.48 h2.7 M57.5 47.15 h2.7 M57.5 39.99 h2.7 M57.5 32.83 h2.7 M57.5 25.66 h2.7 M57.5 11.34 h2.7 M57.5 4.17 h2.7 M434.4 233.40 h-3.8 M434.4 215.49 h-3.8 M434.4 197.59 h-3.8 M434.4 179.68 h-3.8 M434.4 161.77 h-3.8 M434.4 143.86 h-3.8 M434.4 125.95 h-3.8 M434.4 108.04 h-3.8 M434.4 90.13 h-3.8 M434.4 72.23 h-3.8 M434.4 54.32 h-3.8 M434.4 36.41 h-3.8 M434.4 18.50 h-3.8" stroke-width="0.7" stroke="#858585"/>
</g>
<g font-family="Liberation Serif, serif" font-size="14.5" fill="#000" stroke="#000" stroke-width="0.22">
<text x="65.55" y="250.1" text-anchor="middle" textLength="19.5" lengthAdjust="spacingAndGlyphs">0.0</text>
<text x="123.09" y="250.1" text-anchor="middle" textLength="19.5" lengthAdjust="spacingAndGlyphs">0.5</text>
<text x="180.63" y="250.1" text-anchor="middle" textLength="19.5" lengthAdjust="spacingAndGlyphs">1.0</text>
<text x="238.17" y="250.1" text-anchor="middle" textLength="19.5" lengthAdjust="spacingAndGlyphs">1.5</text>
<text x="295.71" y="250.1" text-anchor="middle" textLength="19.5" lengthAdjust="spacingAndGlyphs">2.0</text>
<text x="353.25" y="250.1" text-anchor="middle" textLength="19.5" lengthAdjust="spacingAndGlyphs">2.5</text>
<text x="410.79" y="250.1" text-anchor="middle" textLength="19.5" lengthAdjust="spacingAndGlyphs">3.0</text>
<text x="54" y="238.10" text-anchor="end" textLength="18.9" lengthAdjust="spacingAndGlyphs">0.4</text>
<text x="54" y="202.28" text-anchor="end" textLength="18.9" lengthAdjust="spacingAndGlyphs">0.5</text>
<text x="54" y="166.47" text-anchor="end" textLength="18.9" lengthAdjust="spacingAndGlyphs">0.6</text>
<text x="54" y="130.65" text-anchor="end" textLength="18.9" lengthAdjust="spacingAndGlyphs">0.7</text>
<text x="54" y="94.83" text-anchor="end" textLength="18.9" lengthAdjust="spacingAndGlyphs">0.8</text>
<text x="54" y="59.02" text-anchor="end" textLength="18.9" lengthAdjust="spacingAndGlyphs">0.9</text>
<text x="54" y="23.20" text-anchor="end" textLength="18.1" lengthAdjust="spacingAndGlyphs">1.0</text>
</g>
<g stroke-width="1.15" fill="none">
<path d="M206 82.2 H255.2" stroke="#1414ff"/>
<path d="M206 118.1 H255.2" stroke="#ff1414" stroke-dasharray="5.8 4.1 2 4.1" stroke-dashoffset="9.7"/>
<path d="M206 154.05 H255.2" stroke="#0a0a0a" stroke-dasharray="6.1 3.7"/>
</g>
<g font-family="Liberation Sans, sans-serif" font-size="21.8" fill="#000" style="font-kerning:none">
<text x="267.8" y="87.3"><tspan font-style="italic">γ</tspan>=0, <tspan font-style="italic" dx="1.1">κ</tspan>=0</text>
<text x="266.4" y="122.6">Y. Colombe et al.</text>
<text x="266.6" y="158.8">S. Ritter et al.</text>
</g>
<g font-family="Liberation Sans, sans-serif" fill="#000" style="font-kerning:none">
<text transform="translate(226.5 278.7) scale(1.03 1)" font-size="20.6" font-style="italic">g</text>
<text transform="translate(238.9 282.4) scale(1.0 1)" font-size="15.8" font-style="normal">0</text>
<text transform="translate(249.3 279.0) scale(1.0 1)" font-size="21" font-style="italic">τ</text>
<text transform="translate(257.3 282.3) scale(1.12 1)" font-size="13.8" font-style="italic">c</text>
</g>
<g font-family="Liberation Sans, sans-serif" fill="#000" transform="translate(21.4 154.6) rotate(-90)" style="font-kerning:none">
<text transform="translate(-1.0 0) scale(0.93 1)" font-size="20.8" font-style="italic">C</text>
<rect x="-0.3" y="-19.3" width="16.4" height="2.2" />
<text transform="translate(12.6 3.4) scale(0.95 1)" font-size="16" font-style="normal">m</text>
<text transform="translate(25.3 3.4) scale(1.0 1)" font-size="16" font-style="normal">i</text>
<text transform="translate(29.5 3.4) scale(0.95 1)" font-size="16" font-style="normal">n</text>
<text transform="translate(39.6 0) scale(1.0 1)" font-size="20.5" font-style="normal">/</text>
<text transform="translate(45.6 0) scale(1.05 1)" font-size="21" font-style="italic">g</text>
<text transform="translate(57.9 3.8) scale(1.0 1)" font-size="14.2" font-style="normal">0</text>
<text transform="translate(67.4 -9.2) scale(0.97 1)" font-size="14.0" font-style="normal">2</text>
</g>
</svg>
</body></html>
